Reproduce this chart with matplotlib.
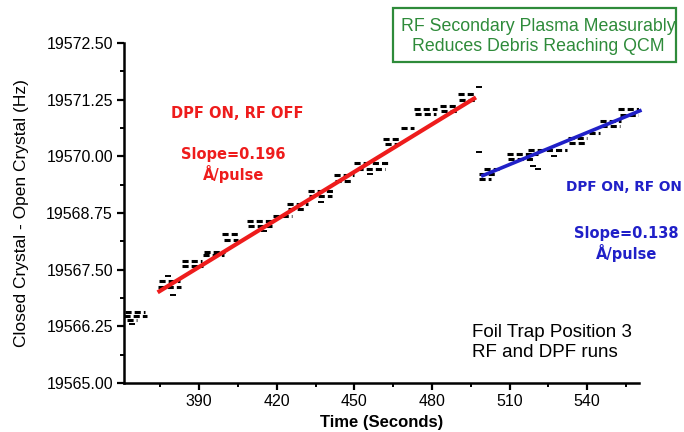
import matplotlib
matplotlib.use("Agg")
import matplotlib.pyplot as plt
from matplotlib.patches import Rectangle
from matplotlib.ticker import AutoMinorLocator, FormatStrFormatter

plt.rcParams['font.family'] = ['Liberation Sans', 'DejaVu Sans']

# axis ticks
x_ticks = [390, 420, 450, 480, 510, 540]
y_ticks = [19565.00, 19566.25, 19567.50, 19568.75, 19570.00, 19571.25, 19572.50]

# measured QCM plateaus: start time, end time, level
dots_t0 = [361.5, 361, 362,
           374.5, 374, 383.5, 383.5, 392, 391.5, 399, 399.5, 408.5, 409, 418.5,
           424, 424.5, 432, 432.5, 442, 442.5, 450, 451, 461, 462, 468,
           473, 473.5, 483, 483.5, 490, 490.5,
           500, 498, 498, 509, 509.5, 517, 532.5, 533, 540.5, 545, 545.5, 552, 552.5]
dots_t1 = [369, 370, 366,
           382.5, 383, 391, 391.5, 400, 399.5, 406, 405, 418.5, 418, 426,
           432, 431.5, 442, 441.5, 450, 449.5, 463, 462, 468, 467.5, 473,
           482, 481.5, 490, 489.5, 497, 496.5,
           506, 505, 503, 521, 520, 532, 540, 539.5, 545, 553, 552.5, 561, 560.5]
dots_y = [19566.57, 19566.47, 19566.38,
          19567.25, 19567.12, 19567.70, 19567.58, 19567.90, 19567.82, 19568.28, 19568.15,
          19568.58, 19568.46, 19568.68, 19568.95, 19568.84, 19569.24, 19569.12,
          19569.58, 19569.45, 19569.85, 19569.72, 19570.38, 19570.28, 19570.62,
          19571.05, 19570.93, 19571.12, 19571.00, 19571.38, 19571.25,
          19569.72, 19569.60, 19569.50, 19570.05, 19569.95, 19570.15, 19570.40, 19570.30,
          19570.52, 19570.78, 19570.66, 19571.05, 19570.92]

# isolated readings
stray_t = [498, 498, 519, 521, 380, 378, 415, 437, 456, 364, 527]
stray_y = [19570.09, 19571.52, 19569.78, 19569.72, 19566.95, 19567.35, 19568.36,
           19569.00, 19569.62, 19566.30, 19570.00]

# linear fits
red_t = [374, 497]
red_y = [19567.0, 19571.3]
blue_t = [499, 561]
blue_y = [19569.56, 19571.02]

red = '#ee1c1c'
blue = '#2020c8'
green = '#2e8b3a'

fig = plt.figure(figsize=(6.84, 4.32), dpi=100)
ax = fig.add_axes([0.1813, 0.1134, 0.7529, 0.7871])

ax.hlines(dots_y, dots_t0, dots_t1, colors='black', linewidth=2.2,
          linestyles=(0, (2, 1)), zorder=2)
ax.scatter(stray_t, stray_y, marker='_', s=14, color='black', linewidth=1.4, zorder=2)

ax.plot(red_t, red_y, color=red, linewidth=3.0, solid_capstyle='butt', zorder=3)
ax.plot(blue_t, blue_y, color=blue, linewidth=2.6, solid_capstyle='butt', zorder=3,
        clip_on=False)

ax.set_xlim(361, 560)
ax.set_ylim(19565.0, 19572.5)
ax.set_xticks(x_ticks)
ax.set_yticks(y_ticks)
ax.yaxis.set_major_formatter(FormatStrFormatter('%.2f'))
ax.xaxis.set_minor_locator(AutoMinorLocator(2))
ax.yaxis.set_minor_locator(AutoMinorLocator(2))

for s in ['top', 'right']:
    ax.spines[s].set_visible(False)
for s in ['left', 'bottom']:
    ax.spines[s].set_linewidth(1.8)
ax.tick_params(which='major', direction='out', length=5, width=1.6, labelsize=11.5, pad=3)
ax.tick_params(which='minor', direction='out', length=3, width=1.4)

ax.set_xlabel('Time (Seconds)', fontsize=12, fontweight='bold', labelpad=4)
ax.set_ylabel('Closed Crystal - Open Crystal (Hz)', fontsize=12.5, labelpad=12)

ax.text(0.219, 0.793, 'DPF ON, RF OFF', transform=ax.transAxes, color=red,
        fontsize=10.5, fontweight='bold', ha='center', va='center', family='DejaVu Sans')
ax.text(0.212, 0.64, 'Slope=0.196\nÅ/pulse', transform=ax.transAxes, color=red,
        fontsize=10.5, fontweight='bold', ha='center', va='center', linespacing=1.2,
        family='DejaVu Sans')
ax.text(0.858, 0.577, 'DPF ON, RF ON', transform=ax.transAxes, color=blue,
        fontsize=9.8, fontweight='bold', ha='left', va='center', clip_on=False,
        family='DejaVu Sans')
ax.text(0.975, 0.41, 'Slope=0.138\nÅ/pulse', transform=ax.transAxes, color=blue,
        fontsize=10.5, fontweight='bold', ha='center', va='center', linespacing=1.2,
        family='DejaVu Sans')
ax.text(0.675, 0.12, 'Foil Trap Position 3\nRF and DPF runs', transform=ax.transAxes,
        color='black', fontsize=13.5, ha='left', va='center', linespacing=1.2)

# green title box
fig.patches.append(Rectangle((0.5746, 0.8565), 0.4137, 0.125, transform=fig.transFigure,
                             facecolor='white', edgecolor=green, linewidth=1.6))
fig.text(0.7865, 0.9155, 'RF Secondary Plasma Measurably\nReduces Debris Reaching QCM',
         color=green, fontsize=12.8, ha='center', va='center', linespacing=1.25)

fig.savefig('out.png', dpi=100)
